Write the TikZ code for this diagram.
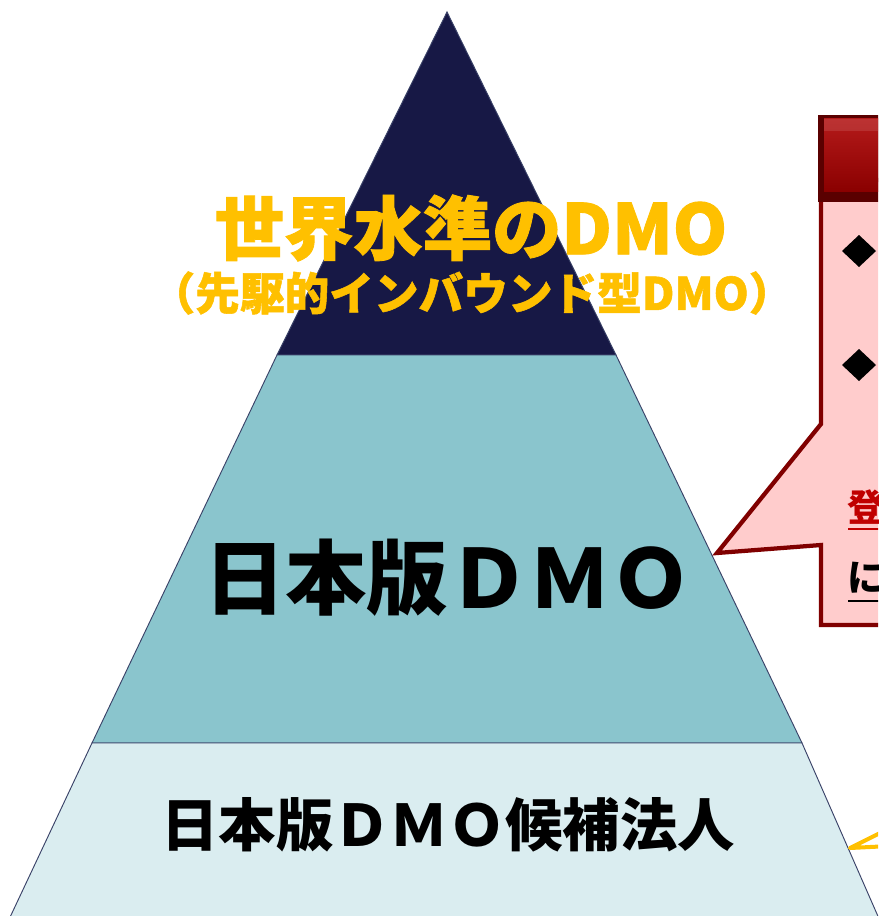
\documentclass[tikz,border=0pt]{standalone}
\usepackage{fontspec}
\newfontfamily\jp{Noto Sans CJK JP}
\newfontfamily\jpheavy{Noto Sans CJK JP}[BoldFeatures={FakeBold=1.2}]
\definecolor{navy}{HTML}{171845}
\definecolor{midteal}{HTML}{8AC5CD}
\definecolor{paleteal}{HTML}{DAEDF0}
\definecolor{edge}{HTML}{3A4268}
\definecolor{gold}{HTML}{FFC000}
\definecolor{darkred}{HTML}{800000}
\definecolor{hdrtop}{HTML}{B41A1A}
\definecolor{hdrbot}{HTML}{8A0000}
\definecolor{hdrdark}{HTML}{5A0000}
\definecolor{calloutpink}{HTML}{FFCCCC}
\definecolor{redtxt}{HTML}{C00000}
\tikzset{
  band/.style={draw=edge, line width=0.7pt},
  goldtitle/.style={font=\jpheavy\bfseries\fontsize{52}{52}\selectfont, text=gold, inner sep=0pt},
  goldsub/.style={font=\jpheavy\bfseries\fontsize{33.5}{33.5}\selectfont, text=gold, inner sep=0pt},
  bigblack/.style={font=\jp\bfseries\fontsize{61}{61}\selectfont, text=black, inner sep=0pt},
  midblack/.style={font=\jp\bfseries\fontsize{43}{43}\selectfont, text=black, inner sep=0pt},
  edgetext/.style={font=\jp\bfseries\fontsize{28}{28}\selectfont, inner sep=0pt, anchor=west},
}
\begin{document}
\begin{tikzpicture}[x=0.75pt,y=-0.75pt]
\useasboundingbox (0,0) rectangle (878,916);
\clip (0,0) rectangle (878,916);
\fill[white] (0,0) rectangle (878,916);

% pyramid bands
\filldraw[band, fill=navy] (447,12) -- (616,355) -- (277,355) -- cycle;
\filldraw[band, fill=midteal] (277,355) -- (616,355) -- (802,743) -- (92,743) -- cycle;
\filldraw[band, fill=paleteal] (92,743) -- (802,743) -- (884,930) -- (4,930) -- cycle;

% yellow callout pointer at bottom right
\coordinate (ytip) at (850,848);
\filldraw[draw=gold, fill=white, line width=3pt, line join=round] (890,828) -- (ytip) -- (890,846);

% pink callout body
\coordinate (ctip) at (717,553);
\filldraw[draw=darkred, fill=calloutpink, line width=3.2pt, line join=miter]
  (821,180) -- (821,424) -- (ctip) -- (821,545) -- (821,625) -- (895,625) -- (895,180) -- cycle;

% header bar
\fill[hdrdark] (818,115) rectangle (895,202);
\shade[top color=hdrtop, bottom color=hdrbot] (824,119) rectangle (895,192);
\fill[hdrtop!70!white, opacity=0.35] (824,119) rectangle (895,131);

% bullets
\fill[black] (859,235) -- (876,251) -- (859,267) -- (842,251) -- cycle;
\fill[black] (859,349) -- (876,365) -- (859,381) -- (842,365) -- cycle;

% partially visible texts (cut by the picture edge, as in the reference)
\node[edgetext, text=redtxt] (tA) at (847,507) {登};
\draw[redtxt, line width=2.2pt] (848,529) -- (880,529);
\node[edgetext, text=black] (tB) at (847,578) {に};
\draw[black, line width=2.2pt] (848,601) -- (880,601);

% texts
\node[goldtitle] (title) at (471,228) {世界水準のDMO};
\node[goldsub] (sub) at (472,293) {（先駆的インバウンド型DMO）};
\node[bigblack] (mid) at (448,578) {日本版ＤＭＯ};
\node[midblack] (bot) at (448,825) {日本版ＤＭＯ候補法人};
\end{tikzpicture}
\end{document}
